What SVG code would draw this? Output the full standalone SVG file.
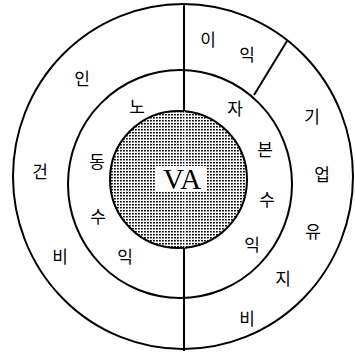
<svg xmlns="http://www.w3.org/2000/svg" width="355" height="353" viewBox="0 0 355 353">
<defs>
<pattern id="dots" width="3" height="3" patternUnits="userSpaceOnUse">
<rect x="0" y="0" width="1.8" height="1.5" fill="#000"/>
</pattern>
<style>
.ring{fill:none;stroke:#000;stroke-width:2}
.line{stroke:#000;stroke-width:2;fill:none}
.k{font-family:"Noto Sans CJK KR","Noto Sans",sans-serif;font-size:17px;fill:#000;text-anchor:middle;dominant-baseline:central}
.va{font-family:"Liberation Serif","Times New Roman",serif;font-size:29px;fill:#000;text-anchor:middle}
</style>
</defs>
<rect width="355" height="353" fill="#fff"/>
<g id="outer-ring"><ellipse class="ring" cx="183" cy="176.5" rx="170" ry="172.5"/></g>
<g id="middle-ring"><ellipse class="ring" cx="180" cy="184" rx="112" ry="114"/></g>
<g id="core">
<circle cx="178.5" cy="179.5" r="68.5" fill="#fff"/>
<circle cx="178.5" cy="179.5" r="68.5" fill="url(#dots)" stroke="#000" stroke-width="2"/>
<line x1="184.5" y1="111" x2="184.5" y2="248" stroke="#fff" stroke-width="1" opacity="0.6"/>
<rect x="156" y="166" width="51" height="25" fill="#fff"/>
<text class="va" x="182" y="189">VA</text>
</g>
<g id="connectors">
<line class="line" x1="184" y1="3" x2="184" y2="111"/>
<line class="line" x1="184" y1="248" x2="184" y2="351"/>
<line class="line" x1="287" y1="41" x2="254" y2="95"/>
</g>
<g id="profit"><text class="k" x="208" y="38">이</text><text class="k" x="247" y="53">익</text></g>
<g id="labor-cost"><text class="k" x="82" y="77">인</text><text class="k" x="40" y="170">건</text><text class="k" x="60" y="255">비</text></g>
<g id="labor-income"><text class="k" x="137" y="105">노</text><text class="k" x="97" y="160">동</text><text class="k" x="98" y="215">수</text><text class="k" x="125" y="255">익</text></g>
<g id="capital-income"><text class="k" x="235" y="107">자</text><text class="k" x="265" y="148">본</text><text class="k" x="267" y="198">수</text><text class="k" x="252" y="243">익</text></g>
<g id="corporate-maintenance"><text class="k" x="312" y="115">기</text><text class="k" x="322" y="173">업</text><text class="k" x="313" y="230">유</text><text class="k" x="283" y="277">지</text><text class="k" x="247" y="317">비</text></g>
</svg>
